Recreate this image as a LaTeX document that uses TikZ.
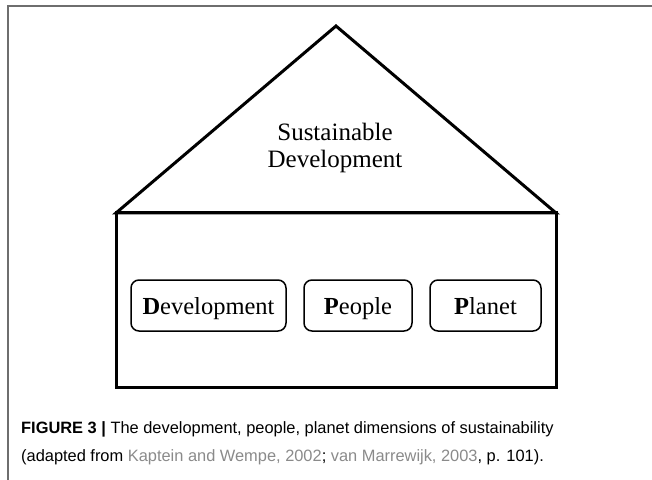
\documentclass[tikz,border=0pt]{standalone}
\usepackage{fontspec}
\setmainfont{Liberation Serif}
\newfontfamily\capfont{Liberation Sans}
\definecolor{framegray}{HTML}{6E6E6E}
\definecolor{citegray}{HTML}{8A8A8A}
\tikzset{
  house/.style={draw=black, line width=3bp, line join=miter},
  dimbox/.style={draw=black, line width=1.5bp, rounded corners=8bp, minimum height=51bp, inner sep=0pt, text height=17bp, text depth=0bp, font=\fontsize{24.5bp}{28bp}\selectfont},
  roofText/.style={align=center, font=\fontsize{25bp}{27.5bp}\selectfont, inner sep=0pt},
  capText/.style={anchor=base west, inner sep=0pt, font=\capfont\fontsize{16.4bp}{18bp}\selectfont}
}
\begin{document}
\begin{tikzpicture}[x=1bp,y=-1bp]
\useasboundingbox (0,0) rectangle (652,480);
% frame
\draw[framegray, line width=2bp] (8,480) -- (8,6.5) -- (652,6.5);
% house
\coordinate (apex) at (336,26);
\coordinate (bl) at (116,387);
\coordinate (br) at (556,387);
\coordinate (tl) at (116,213);
\coordinate (tr) at (556,213);
\draw[house] (tl) -- (apex) -- (tr) -- cycle;
\draw[house] (tl) rectangle (br);
\node[roofText] (sd) at (335,148) {Sustainable\\Development};
% dimension boxes
\node[dimbox, minimum width=155bp] (dev) at (208.5,305.5) {\textbf{D}evelopment};
\node[dimbox, minimum width=108bp] (peo) at (358,305.5) {\textbf{P}eople};
\node[dimbox, minimum width=111bp] (pla) at (485.5,305.5) {\textbf{P}lanet};
% caption
\node[capText] (cap1) at (21,433) {\textbf{FIGURE 3 |} The development, people, planet dimensions of sustainability};
\node[capText] (cap2) at (21,461) {(adapted from \textcolor{citegray}{Kaptein and Wempe, 2002}; \textcolor{citegray}{van Marrewijk, 2003}, p. 101).};
\end{tikzpicture}
\end{document}
